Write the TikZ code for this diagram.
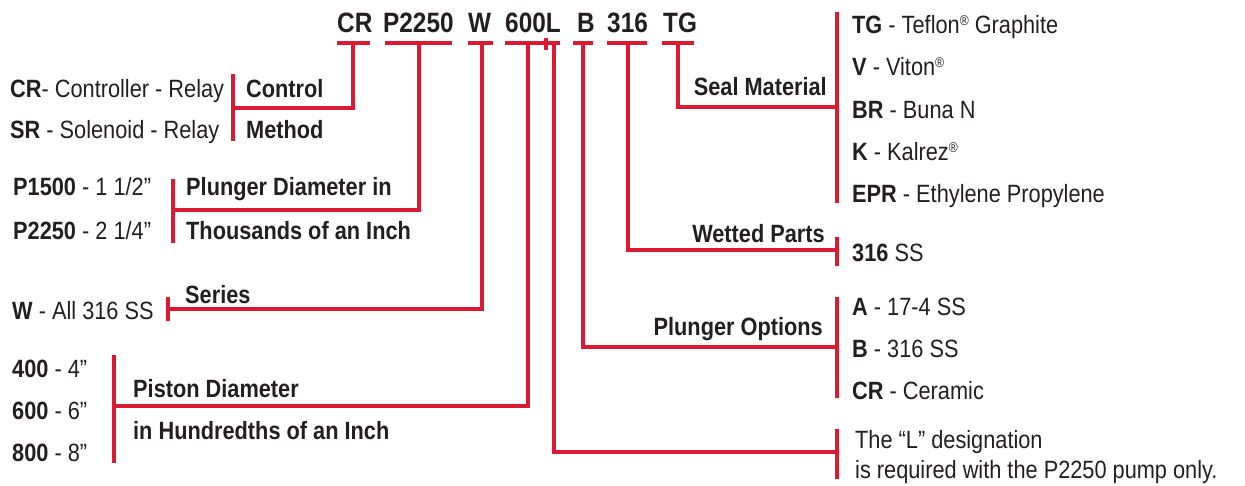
\documentclass[tikz,border=0pt]{standalone}
\usepackage{fontspec}
\setmainfont{Liberation Sans}[FakeStretch=0.87]
\usepackage{xcolor}
\definecolor{PRred}{HTML}{DA1A32}
\definecolor{PRink}{HTML}{231F20}
\usetikzlibrary{positioning}
\newcommand{\regmark}{\raisebox{8pt}{\fontsize{14}{14}\selectfont ®}}

\begin{document}
\begin{tikzpicture}[x=1pt, y=-1pt]
\tikzset{
  lead/.style={PRred, line width=3.2pt},
  codetxt/.style={PRink, inner sep=0pt, anchor=base west, font=\fontsize{28}{30}\selectfont\bfseries},
  hdr/.style={PRink, inner sep=0pt, font=\fontsize{25}{27}\selectfont\bfseries},
  itm/.style={PRink, inner sep=0pt, anchor=base west, font=\fontsize{25}{27}\selectfont},
}
  \useasboundingbox (0,0) rectangle (1245,485);

  % Part number row
  \node[codetxt] (cCR)  at (337,32) {CR};
  \node[codetxt] (cP)   at (383,32) {P2250};
  \node[codetxt] (cW)   at (468,32) {W};
  \node[codetxt] (c600) at (505,32) {600L};
  \node[codetxt] (cB)   at (577,32) {B};
  \node[codetxt] (c316) at (607,32) {316};
  \node[codetxt] (cTG)  at (663,32) {TG};

  % underlines under each field
  \draw[lead] (337,43) -- (370,43);
  \draw[lead] (385,43) -- (452,43);
  \draw[lead] (468,43) -- (493,43);
  \draw[lead] (505,43) -- (560,43);
  \draw[lead] (546,38) -- (546,50);
  \draw[lead] (573,43) -- (593,43);
  \draw[lead] (607,43) -- (647,43);
  \draw[lead] (662,43) -- (694,43);

  % drop points on the underlines
  \coordinate (dCR)  at (353,43);
  \coordinate (dP)   at (419,43);
  \coordinate (dW)   at (482,43);
  \coordinate (d600) at (528,43);
  \coordinate (dL)   at (554,43);
  \coordinate (dB)   at (583,43);
  \coordinate (d316) at (628,43);
  \coordinate (dTG)  at (678,43);

  % Control method
  \node[itm] (oCR) at (10,97) {\textbf{CR}- Controller - Relay};
  \node[itm] (oSR) at (10,138) {\textbf{SR} - Solenoid - Relay};
  \node[hdr, anchor=base west] (hCtl) at (246,97) {Control};
  \node[hdr, anchor=base west] (hMeth) at (246,138) {Method};
  \coordinate (bCtl) at (233,108);
  \draw[lead] (233,74) -- (233,141);
  \draw[lead] (dCR) |- (bCtl);

  % Plunger diameter
  \node[itm] (oP15) at (13,195) {\textbf{P1500} - 1 1/2”};
  \node[itm] (oP22) at (13,239) {\textbf{P2250} - 2 1/4”};
  \node[hdr, anchor=base west] (hPd1) at (186,195) {Plunger Diameter in};
  \node[hdr, anchor=base west] (hPd2) at (186,239) {Thousands of an Inch};
  \coordinate (bPd) at (173,210);
  \draw[lead] (173,179) -- (173,243);
  \draw[lead] (dP) |- (bPd);

  % Series
  \node[itm] (oW) at (12,319) {\textbf{W} - All 316 SS};
  \node[hdr, anchor=base west] (hSer) at (185,303) {Series};
  \coordinate (bSer) at (168,309);
  \draw[lead] (168,297) -- (168,321);
  \draw[lead] (dW) |- (bSer);

  % Piston diameter
  \node[itm] (o400) at (12,377) {\textbf{400} - 4”};
  \node[itm] (o600) at (12,419) {\textbf{600} - 6”};
  \node[itm] (o800) at (12,461) {\textbf{800} - 8”};
  \node[hdr, anchor=base west] (hPs1) at (133,397) {Piston Diameter};
  \node[hdr, anchor=base west] (hPs2) at (133,439) {in Hundredths of an Inch};
  \coordinate (bPs) at (114,406);
  \draw[lead] (114,355) -- (114,463);
  \draw[lead] (d600) |- (bPs);

  % Seal material
  \node[hdr, anchor=base east] (hSeal) at (827,95) {Seal Material};
  \node[itm] (oTG)  at (852,33)  {\textbf{TG} - Teflon\regmark\ Graphite};
  \node[itm] (oV)   at (852,75)  {\textbf{V} - Viton\regmark};
  \node[itm] (oBR)  at (852,118) {\textbf{BR} - Buna N};
  \node[itm] (oK)   at (852,160) {\textbf{K} - Kalrez\regmark};
  \node[itm] (oEPR) at (852,202) {\textbf{EPR} - Ethylene Propylene};
  \coordinate (bSeal) at (837,107);
  \draw[lead] (837,12) -- (837,203);
  \draw[lead] (dTG) |- (bSeal);

  % Wetted parts
  \node[hdr, anchor=base east] (hWet) at (825,242) {Wetted Parts};
  \node[itm] (o316) at (852,261) {\textbf{316} SS};
  \coordinate (bWet) at (837,250);
  \draw[lead] (837,237) -- (837,266);
  \draw[lead] (d316) |- (bWet);

  % Plunger options
  \node[hdr, anchor=base east] (hPo) at (823,335) {Plunger Options};
  \node[itm] (oA)  at (852,315) {\textbf{A} - 17-4 SS};
  \node[itm] (oB)  at (852,357) {\textbf{B} - 316 SS};
  \node[itm] (oCe) at (852,399) {\textbf{CR} - Ceramic};
  \coordinate (bPo) at (837,347);
  \draw[lead] (837,297) -- (837,398);
  \draw[lead] (dB) |- (bPo);

  % L designation note
  \node[itm] (nL1) at (855,448) {The “L” designation};
  \node[itm] (nL2) at (855,478) {is required with the P2250 pump only.};
  \coordinate (bL) at (837,452);
  \draw[lead] (837,429) -- (837,479);
  \draw[lead] (dL) |- (bL);

\end{tikzpicture}
\end{document}
